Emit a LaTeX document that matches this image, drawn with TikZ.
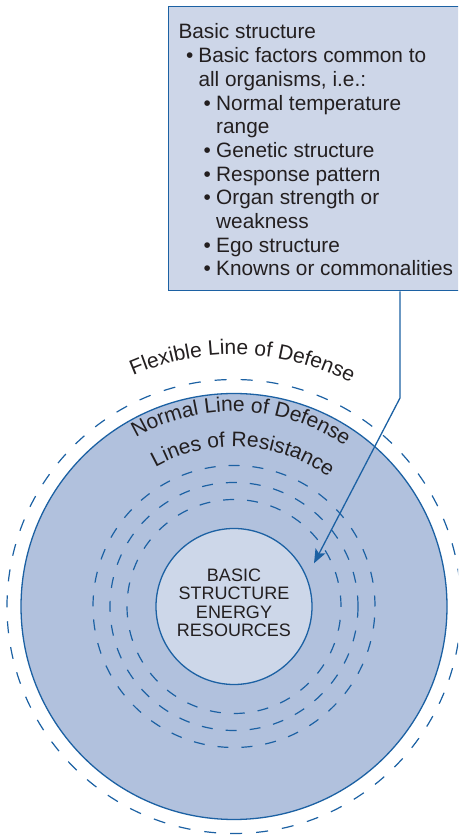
\documentclass[tikz,border=0pt]{standalone}
\usepackage{fontspec}
\setmainfont{Liberation Sans}
\usetikzlibrary{arrows.meta,calc,decorations.text}

\definecolor{lineblue}{HTML}{1C61A3}
\definecolor{ringfill}{HTML}{B1C1DD}
\definecolor{corefill}{HTML}{CDD7E9}
\definecolor{boxfill}{HTML}{CDD6E8}
\definecolor{ink}{HTML}{231F20}

\newcommand\lblfont{\fontsize{20.8}{23.7}\selectfont}
\newcommand\arcfont{\fontsize{21}{21}\selectfont}
\newcommand\corefont{\fontsize{18}{18.3}\selectfont}
\newcommand\bul[1]{\makebox[#1][l]{\textbullet}}

\begin{document}
\begin{tikzpicture}[x=1pt,y=1pt,
  ringline/.style={draw=lineblue, line width=1.3pt},
  flexring/.style={circle, inner sep=0pt, draw=lineblue, line width=1.2pt,
                   dash pattern=on 12pt off 14pt},
  resring/.style={circle, inner sep=0pt, draw=lineblue, line width=1.2pt,
                  dash pattern=on 11pt off 13pt},
  boxline/.style={anchor=base west, inner sep=0pt, font=\lblfont, text=ink},
  conn/.style={draw=lineblue, line width=1.3pt,
               -{Stealth[length=14pt,width=11pt,inset=3pt]}}
]
\useasboundingbox (0,0) rectangle (458,835);
\clip (0,0) rectangle (458,835);

\coordinate (C) at (234,228.5);

% flexible line of defense
\node[flexring, minimum size=454pt] (flex) at (C) {};
% normal line of defense
\node[circle, inner sep=0pt, ringline, fill=ringfill, minimum size=426pt] (normal) at (C) {};
% lines of resistance
\node[resring, minimum size=282pt] (res3) at (C) {};
\node[resring, minimum size=248pt] (res2) at (C) {};
\node[resring, minimum size=214pt] (res1) at (C) {};
% basic structure core
\node[circle, inner sep=0pt, ringline, fill=corefill, minimum size=156pt] (core) at (C) {};
\node[align=center, inner sep=0pt, font=\corefont, text=ink, yshift=3.8pt] (coretxt) at (C)
  {BASIC\\STRUCTURE\\ENERGY\\RESOURCES};

% curved labels
\path[decorate, decoration={text along path, text align=center, text color=ink,
      text={|\arcfont|Flexible Line of Defense}}]
  ($(C)+(140:252)$) arc[start angle=140, end angle=36, radius=252];
\path[decorate, decoration={text along path, text align=center, text color=ink,
      text={|\arcfont|Normal Line of Defense}}]
  ($(C)+(150:195)$) arc[start angle=150, end angle=25.5, radius=195];
\path[decorate, decoration={text along path, text align=center, text color=ink,
      text={|\arcfont|Lines of Resistance}}]
  ($(C)+(150:160)$) arc[start angle=150, end angle=23.2, radius=160];

% description box
\node[draw=lineblue, fill=boxfill, line width=1.4pt, anchor=north west,
      minimum width=320pt, minimum height=284pt, inner sep=0pt] (box) at (168,829) {};
\node[boxline] (l1)  at (178.3,796.0) {Basic structure};
\node[boxline] (l2)  at (186.0,772.3) {\bul{12.3pt}Basic factors common to};
\node[boxline] (l3)  at (198.3,748.6) {all organisms, i.e.:};
\node[boxline] (l4)  at (203.3,724.9) {\bul{12.7pt}Normal temperature};
\node[boxline] (l5)  at (216.0,701.2) {range};
\node[boxline] (l6)  at (203.3,677.5) {\bul{12.7pt}Genetic structure};
\node[boxline] (l7)  at (203.3,653.8) {\bul{12.7pt}Response pattern};
\node[boxline] (l8)  at (203.3,630.1) {\bul{12.7pt}Organ strength or};
\node[boxline] (l9)  at (216.0,606.4) {weakness};
\node[boxline] (l10) at (203.3,582.7) {\bul{12.7pt}Ego structure};
\node[boxline] (l11) at (203.3,559.0) {\bul{12.7pt}Knowns or commonalities};

% pointer from the box to the core
\coordinate (bend) at (400,437);
\coordinate (tip) at (314,271.7);
\draw[conn] (box.south -| bend) -- (bend) -- (tip);
\end{tikzpicture}
\end{document}
